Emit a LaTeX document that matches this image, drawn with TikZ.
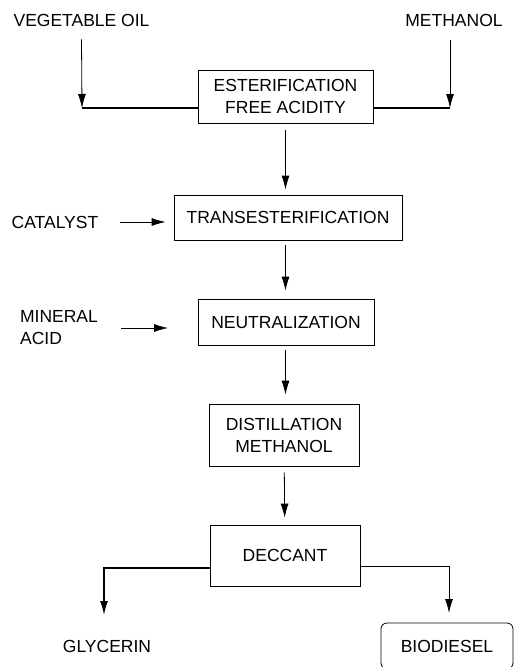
\documentclass[tikz,border=0pt]{standalone}
\usepackage{fontspec}
\setmainfont{Liberation Sans}
\usetikzlibrary{arrows.meta}

\begin{document}
\begin{tikzpicture}[x=1pt, y=-1pt,
          every node/.style = {font=\fontsize{17.5}{22}\selectfont, align=center, inner sep=0pt},
          procbox/.style = {draw, line width=0.8pt},
          flow/.style = {-{Latex[length=14pt,width=8pt]}, line width=0.8pt},
          feed/.style = {line width=1.8pt}]
\useasboundingbox (0,0) rectangle (515,667);

% inputs
\node (vegoil) at (81.5,20) {VEGETABLE OIL};
\node (methanol) at (454,20) {METHANOL};
\node (catalyst) at (55,222) {CATALYST};
\node[align=left] (acid) at (59,328) {MINERAL\\ACID};

% process steps
\node[procbox, minimum width=175pt, minimum height=53pt] (ester) at (285.5,96.5) {ESTERIFICATION\\FREE ACIDITY};
\node[procbox, minimum width=228pt, minimum height=45pt] (trans) at (288,217.5) {TRANSESTERIFICATION};
\node[procbox, minimum width=176pt, minimum height=46pt] (neut) at (286,322) {NEUTRALIZATION};
\node[procbox, minimum width=150pt, minimum height=62pt] (dist) at (284,435) {DISTILLATION\\METHANOL};
\node[procbox, minimum width=150pt, minimum height=61pt] (decc) at (285,555.5) {DECCANT};

% products
\node (glycerin) at (107,646) {GLYCERIN};
\node[procbox, rounded corners=6pt, minimum width=132pt, minimum height=46pt] (biodiesel) at (447,646) {BIODIESEL};

\coordinate (vj) at (82,108);
\coordinate (mtop) at (450,40);
\coordinate (mj) at (450,108);
\coordinate (cat) at (120,222);
\coordinate (min) at (121,328);
\coordinate (mintip) at (168,328);
\coordinate (gl) at (104,615);
\coordinate (bi) at (449,613);

% feeds into esterification
\draw[flow] ([yshift=-13pt]vegoil.south) -- (vj);
\draw[feed] (vj) -- (ester.west |- vj);
\draw[flow] (mtop) -- (mj);
\draw[feed] (ester.east |- mj) -- (mj);

% main line
\draw[flow, shorten <=7pt, shorten >=5pt] (ester.south) -- (trans.north -| ester.south);
\draw[flow, shorten <=5pt, shorten >=8pt] (trans.south -| ester.south) -- (neut.north -| ester.south);
\draw[flow, shorten <=5pt, shorten >=9pt] (neut.south -| ester.south) -- (dist.north -| ester.south);
\draw[flow, shorten <=6pt, shorten >=7pt] (dist) -- (decc);

% side feeds
\draw[flow, shorten >=8pt] (cat) -- (trans.west |- cat);
\draw[flow] (min) -- (mintip);

% separation
\draw[flow, line width=1.4pt] ([yshift=-12.5pt]decc.west) -| (gl);
\draw[flow] ([yshift=-10.5pt]decc.east) -| (bi);
\end{tikzpicture}
\end{document}
